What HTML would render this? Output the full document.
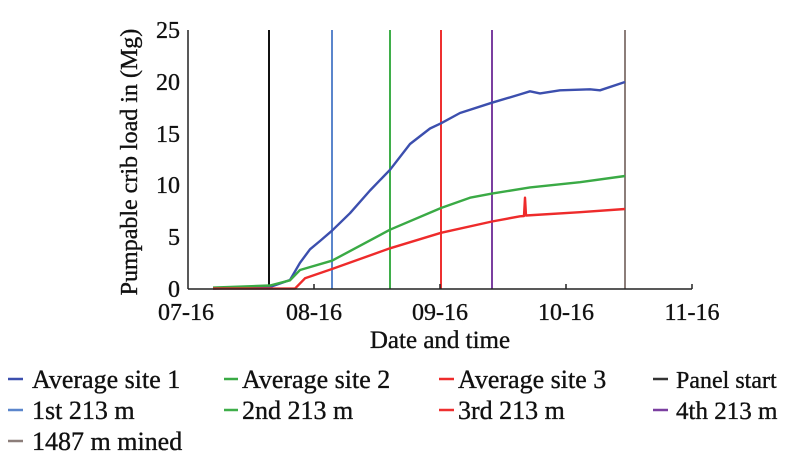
<!DOCTYPE html>
<html><head><meta charset="utf-8"><style>
html,body{margin:0;padding:0;background:#fff;}
svg{display:block;}
text{font-family:"Liberation Serif",serif;fill:#111;stroke:#111;stroke-width:0.35;}
</style></head><body>
<svg width="800" height="473" viewBox="0 0 800 473" xmlns="http://www.w3.org/2000/svg">
<g font-size="24" text-anchor="end">
<text x="180" y="38">25</text>
<text x="180" y="90">20</text>
<text x="180" y="142">15</text>
<text x="180" y="193">10</text>
<text x="180" y="245">5</text>
<text x="180" y="297">0</text>
</g>
<text transform="translate(137,162) rotate(-90)" font-size="24" text-anchor="middle">Pumpable crib load in (Mg)</text>
<g stroke-width="2">
<line x1="269" y1="30" x2="269" y2="289" stroke="#111"/>
<line x1="332" y1="30" x2="332" y2="289" stroke="#5b86cc"/>
<line x1="390" y1="30" x2="390" y2="289" stroke="#3fae4a"/>
<line x1="441" y1="30" x2="441" y2="289" stroke="#ee3030"/>
<line x1="492" y1="30" x2="492" y2="289" stroke="#7b3fa0"/>
<line x1="625" y1="30" x2="625" y2="289" stroke="#8c7e7a"/>
</g>
<g fill="none" stroke-width="2.4" stroke-linejoin="round">
<polyline stroke="#3c4fae" points="213,288.6 270,287 290,280 300,262.8 310,249.3 320,241 332,230.7 350,213.2 370,190.5 390,169.8 410,144 430,128.5 441,123.3 460,113 492,102.7 520,94.4 530,91.3 540,93.4 560,90.3 590,89.3 600,90.3 625,82"/>
<polyline stroke="#3aaa45" points="213,287.6 270,285.5 290,280.3 300,270 332,260.7 390,229.7 441,208 470,197.7 492,193.6 530,187.4 580,182.2 625,176"/>
<polyline stroke="#ee2b2b" points="213,288.6 295,288.6 305,278.3 332,269 390,248.3 441,232.8 492,221.5 520,216.3 524,216 525,197.7 526,215.5 580,212.2 625,209"/>
</g>
<g stroke="#222" stroke-width="1.5" fill="none">
<line x1="188" y1="30" x2="188" y2="289"/>
<line x1="188" y1="289" x2="692" y2="289"/>
<line x1="314" y1="289" x2="314" y2="284"/>
<line x1="440" y1="289" x2="440" y2="284"/>
<line x1="566" y1="289" x2="566" y2="284"/>
<line x1="692" y1="289" x2="692" y2="284"/>
</g>
<g font-size="24" text-anchor="middle">
<text x="186" y="320">07-16</text>
<text x="314" y="320">08-16</text>
<text x="440" y="320">09-16</text>
<text x="566" y="320">10-16</text>
<text x="692" y="320">11-16</text>
<text x="440" y="348" font-size="25">Date and time</text>
</g>
<g stroke-width="2.5">
<line x1="8" y1="379" x2="23" y2="379" stroke="#3c4fae"/>
<line x1="224" y1="379" x2="238" y2="379" stroke="#3aaa45"/>
<line x1="439" y1="379" x2="454" y2="379" stroke="#ee2b2b"/>
<line x1="653" y1="379" x2="668" y2="379" stroke="#333"/>
<line x1="8" y1="410" x2="23" y2="410" stroke="#5b86cc"/>
<line x1="224" y1="410" x2="238" y2="410" stroke="#3fae4a"/>
<line x1="439" y1="410" x2="454" y2="410" stroke="#ee3030"/>
<line x1="653" y1="410" x2="668" y2="410" stroke="#7b3fa0"/>
<line x1="8" y1="441" x2="23" y2="441" stroke="#8c7e7a"/>
</g>
<g font-size="26">
<text x="32" y="388">Average site 1</text>
<text x="242" y="388">Average site 2</text>
<text x="458" y="388">Average site 3</text>
<text x="676" y="388" font-size="24">Panel start</text>
<text x="32" y="419">1st 213 m</text>
<text x="242" y="419">2nd 213 m</text>
<text x="458" y="419">3rd 213 m</text>
<text x="676" y="419" font-size="25">4th 213 m</text>
<text x="32" y="450">1487 m mined</text>
</g>
</svg>
</body></html>
